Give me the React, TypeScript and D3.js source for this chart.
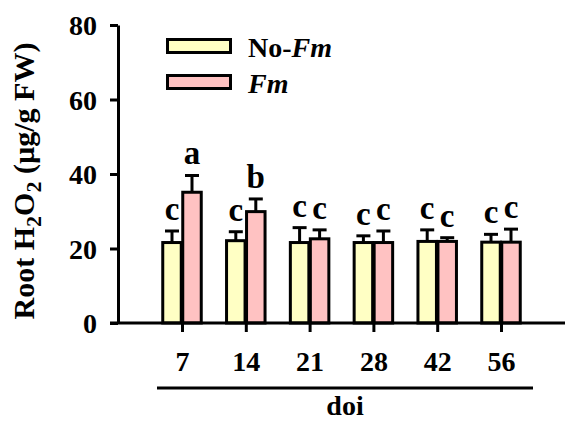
import React, { useEffect, useRef } from "react";
import * as d3 from "d3";

// doi (days of inoculation)
const days = ["7", "14", "21", "28", "42", "56"];
const noFmMean = [21.6, 22.1, 21.6, 21.6, 21.9, 21.7];
const noFmErr = [3.1, 2.4, 4.0, 1.8, 3.1, 2.1];
const fmMean = [35.1, 29.9, 22.6, 21.6, 21.9, 21.7];
const fmErr = [4.5, 3.4, 2.4, 3.1, 1.0, 3.5];
const noFmLetters = ["c", "c", "c", "c", "c", "c"];
const fmLetters = ["a", "b", "c", "c", "c", "c"];
const yTicks = [0, 20, 40, 60, 80];

const FONT = "'Liberation Serif', 'Times New Roman', serif";

export default function App() {
  const ref = useRef<SVGSVGElement>(null);

  useEffect(() => {
    const svg = d3.select(ref.current);
    svg.selectAll("*").remove();

    const y = d3.scaleLinear().domain([0, 80]).range([323, 25]);
    const x = d3.scalePoint().domain(days).range([182, 501]);
    const barW = 18.5;

    const series = [
      { name: "No-Fm", mean: noFmMean, err: noFmErr, letters: noFmLetters, fill: "#ffffc4", off: -barW / 2 - 0.75 },
      { name: "Fm", mean: fmMean, err: fmErr, letters: fmLetters, fill: "#ffc2c2", off: barW / 2 + 0.75 },
    ];

    // bars + error bars + letters
    series.forEach((s) => {
      const g = svg.append("g");
      days.forEach((d, i) => {
        const cx = (x(d) as number) + s.off;
        const top = y(s.mean[i]);
        const et = y(s.mean[i] + s.err[i]);
        g.append("line")
          .attr("x1", cx).attr("x2", cx)
          .attr("y1", top).attr("y2", et)
          .attr("stroke", "#000").attr("stroke-width", 3);
        g.append("line")
          .attr("x1", cx - 7).attr("x2", cx + 7)
          .attr("y1", et).attr("y2", et)
          .attr("stroke", "#000").attr("stroke-width", 3);
        g.append("rect")
          .attr("x", cx - barW / 2)
          .attr("y", top)
          .attr("width", barW)
          .attr("height", y(0) - top)
          .attr("fill", s.fill)
          .attr("stroke", "#000")
          .attr("stroke-width", 3);
        g.append("text")
          .attr("x", cx)
          .attr("y", et - 11)
          .attr("text-anchor", "middle")
          .attr("font-family", FONT)
          .attr("font-weight", "bold")
          .attr("font-size", 33)
          .text(s.letters[i]);
      });
    });

    // y axis
    const yAxis = svg.append("g")
      .attr("transform", "translate(118,0)")
      .call(d3.axisLeft(y).tickValues(yTicks).tickSize(8).tickSizeOuter(0).tickPadding(13));
    yAxis.select(".domain").attr("stroke-width", 3);
    yAxis.selectAll(".tick line").attr("stroke-width", 3);
    yAxis.selectAll(".tick text")
      .attr("font-family", FONT)
      .attr("font-weight", "bold")
      .attr("font-size", 28)
      .attr("dy", "0.34em");

    // x axis
    svg.append("line")
      .attr("x1", 110).attr("x2", 565)
      .attr("y1", y(0)).attr("y2", y(0))
      .attr("stroke", "#000").attr("stroke-width", 3);
    const xAxis = svg.append("g")
      .attr("transform", `translate(0,${y(0)})`)
      .call(d3.axisBottom(x).tickSize(9).tickSizeOuter(0));
    xAxis.select(".domain").remove();
    xAxis.selectAll(".tick line").attr("stroke-width", 3);
    xAxis.selectAll(".tick text")
      .attr("font-family", FONT)
      .attr("font-weight", "bold")
      .attr("font-size", 28)
      .attr("y", 48)
      .attr("dy", 0);

    // doi underline and title
    svg.append("line")
      .attr("x1", 157).attr("x2", 533)
      .attr("y1", 388).attr("y2", 388)
      .attr("stroke", "#000").attr("stroke-width", 3);
    svg.append("text")
      .attr("x", 345).attr("y", 415)
      .attr("text-anchor", "middle")
      .attr("font-family", FONT)
      .attr("font-weight", "bold")
      .attr("font-size", 28)
      .text("doi");

    // y title
    const yt = svg.append("text")
      .attr("transform", "translate(34,181) rotate(-90)")
      .attr("text-anchor", "middle")
      .attr("font-family", FONT)
      .attr("font-weight", "bold")
      .attr("font-size", 30);
    yt.append("tspan").text("Root H");
    yt.append("tspan").attr("font-size", 22).attr("dy", 7).text("2");
    yt.append("tspan").attr("dy", -7).text("O");
    yt.append("tspan").attr("font-size", 22).attr("dy", 7).text("2");
    yt.append("tspan").attr("dy", -7).text(" (\u00b5g/g FW)");

    // legend
    const leg = svg.append("g");
    series.forEach((s, i) => {
      const ly = 39.5 + i * 36;
      leg.append("rect")
        .attr("x", 167.5).attr("y", ly)
        .attr("width", 63).attr("height", 13)
        .attr("fill", s.fill)
        .attr("stroke", "#000").attr("stroke-width", 3);
      const t = leg.append("text")
        .attr("x", 248).attr("y", ly + 17)
        .attr("font-family", FONT)
        .attr("font-weight", "bold")
        .attr("font-size", 28);
      if (s.name === "No-Fm") {
        t.append("tspan").text("No-");
        t.append("tspan").attr("font-style", "italic").text("Fm");
      } else {
        t.append("tspan").attr("font-style", "italic").text("Fm");
      }
    });
  }, []);

  return (
    <svg
      ref={ref}
      width={565}
      height={421}
      style={{ position: "absolute", left: 0, top: 0, background: "#fff" }}
    />
  );
}
